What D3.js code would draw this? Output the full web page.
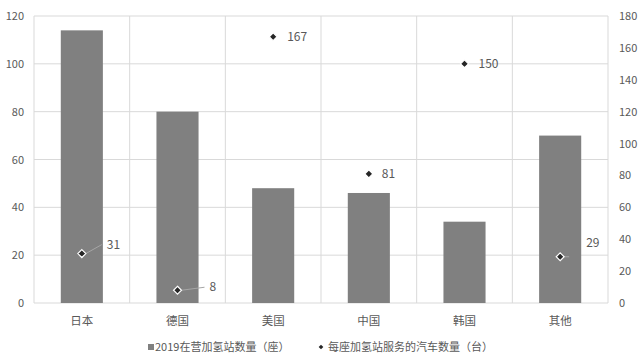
<!DOCTYPE html>
<html>
<head>
<meta charset="utf-8">
<script src="https://cdn.jsdelivr.net/npm/d3@7"></script>
<style>
  body { margin: 0; background: #fff; }
  text { font-family: "Noto Sans CJK SC", "Noto Sans", sans-serif; fill: #595959; }
</style>
</head>
<body>
<svg id="chart"></svg>
<script>
// data
const categories = ["日本", "德国", "美国", "中国", "韩国", "其他"];
const stations = [114, 80, 48, 46, 34, 70];      // 2019在营加氢站数量（座）
const carsPerStation = [31, 8, 167, 81, 150, 29]; // 每座加氢站服务的汽车数量（台）
const leftTicks = [0, 20, 40, 60, 80, 100, 120];
const rightTicks = [0, 20, 40, 60, 80, 100, 120, 140, 160, 180];
const legendLabels = ["2019在营加氢站数量（座）", "每座加氢站服务的汽车数量（台）"];

const width = 640, height = 360;
const margin = { top: 16, right: 32, bottom: 57, left: 34 };

const svg = d3.select("#chart").attr("width", width).attr("height", height);

const x = d3.scaleBand()
  .domain(categories)
  .range([margin.left, width - margin.right])
  .paddingInner(0).paddingOuter(0);

const yL = d3.scaleLinear().domain([0, 120]).range([height - margin.bottom, margin.top]);
const yR = d3.scaleLinear().domain([0, 180]).range([height - margin.bottom, margin.top]);

// horizontal gridlines
svg.append("g")
  .selectAll("line")
  .data(leftTicks)
  .join("line")
  .attr("x1", margin.left).attr("x2", width - margin.right)
  .attr("y1", (d) => yL(d)).attr("y2", (d) => yL(d))
  .attr("stroke", "#d9d9d9").attr("stroke-width", 1);

// vertical category separators
const seps = [margin.left].concat(categories.map((c) => x(c) + x.bandwidth()));
svg.append("g")
  .selectAll("line")
  .data(seps)
  .join("line")
  .attr("x1", (d) => d).attr("x2", (d) => d)
  .attr("y1", margin.top).attr("y2", height - margin.bottom)
  .attr("stroke", "#d9d9d9").attr("stroke-width", 1);

// bars
const barW = x.bandwidth() * 0.44;
svg.append("g")
  .selectAll("rect")
  .data(stations)
  .join("rect")
  .attr("x", (d, i) => x(categories[i]) + (x.bandwidth() - barW) / 2)
  .attr("y", (d) => yL(d))
  .attr("width", barW)
  .attr("height", (d) => yL(0) - yL(d))
  .attr("fill", "#808080");

// left axis
const axL = svg.append("g")
  .attr("transform", `translate(${margin.left},0)`)
  .call(d3.axisLeft(yL).tickValues(leftTicks).tickSize(0).tickPadding(10));
axL.select(".domain").remove();
axL.selectAll("text").attr("font-size", 11).style("fill", "#595959");

// right axis
const axR = svg.append("g")
  .attr("transform", `translate(${width - margin.right},0)`)
  .call(d3.axisRight(yR).tickValues(rightTicks).tickSize(0).tickPadding(11));
axR.select(".domain").remove();
axR.selectAll("text").attr("font-size", 11).style("fill", "#595959");

// category labels
svg.append("g")
  .selectAll("text")
  .data(categories)
  .join("text")
  .attr("x", (d) => x(d) + x.bandwidth() / 2)
  .attr("y", height - margin.bottom + 22)
  .attr("text-anchor", "middle")
  .attr("font-size", 11.5)
  .text((d) => d);

// label offsets for the point labels (dx, dy) and whether a leader line is drawn
const labelPos = [
  { dx: 25, dy: -9, leader: true },
  { dx: 32, dy: -3, leader: true },
  { dx: 14, dy: 0, leader: false },
  { dx: 13, dy: 0, leader: false },
  { dx: 14, dy: 0, leader: false },
  { dx: 26, dy: -14, leader: true },
];

const pts = svg.append("g")
  .selectAll("g")
  .data(carsPerStation)
  .join("g")
  .attr("transform", (d, i) => `translate(${x(categories[i]) + x.bandwidth() / 2},${yR(d)})`);

pts.filter((d, i) => labelPos[i].leader)
  .append("line")
  .attr("x1", 4).attr("y1", 0)
  .attr("x2", (d, i) => labelPos[i].dx - 5)
  .attr("y2", (d, i) => labelPos[i].dy)
  .attr("stroke", "#a6a6a6").attr("stroke-width", 1);

pts.append("path")
  .attr("d", d3.symbol(d3.symbolDiamond2, 40)())
  .attr("fill", "#262626")
  .attr("stroke", "#fff")
  .attr("stroke-width", 1.2);

pts.append("text")
  .attr("x", (d, i) => labelPos[i].dx)
  .attr("y", (d, i) => labelPos[i].dy)
  .attr("dy", "0.35em")
  .attr("font-size", 12)
  .text((d) => d);

// legend
const leg = svg.append("g").attr("transform", `translate(0,${height - 13})`);
leg.append("rect").attr("x", 148).attr("y", -3).attr("width", 6).attr("height", 6).attr("fill", "#808080");
leg.append("text").attr("x", 155).attr("y", 0).attr("dy", "0.35em").attr("font-size", 11).text(legendLabels[0]);
leg.append("path")
  .attr("transform", "translate(321,0)")
  .attr("d", d3.symbol(d3.symbolDiamond2, 14)())
  .attr("fill", "#262626");
leg.append("text").attr("x", 328).attr("y", 0).attr("dy", "0.35em").attr("font-size", 11).text(legendLabels[1]);
</script>
</body>
</html>
